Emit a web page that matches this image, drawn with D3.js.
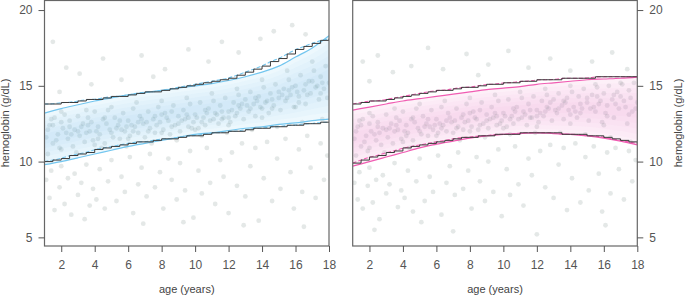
<!DOCTYPE html>
<html>
<head>
<meta charset="utf-8">
<script src="https://cdn.jsdelivr.net/npm/d3@7"></script>
<style>
  body { margin: 0; background: #fff; }
  text { font-family: "Liberation Sans", Arial, sans-serif; }
</style>
</head>
<body>
<script>
// ages (years) for the step reference limits, every half year
var stepAges = [1,1.5,2,2.5,3,3.5,4,4.5,5,5.5,6,6.5,7,7.5,8,8.5,9,9.5,10,10.5,11,11.5,12,12.5,13,13.5,14,14.5,15,15.5,16,16.5,17,17.5,18];
// ages (years) for the smooth band edges
var bandAges = [1,2,3,4,5,6,7,8,9,10,11,12,13,14,15,16,17,18];

// left panel (blue) step limits
var leftStepUpper = [13.8,13.8,13.9,13.9,14.0,14.1,14.1,14.2,14.3,14.3,14.4,14.5,14.6,14.6,14.7,14.8,14.9,15.0,15.1,15.2,15.3,15.4,15.5,15.7,15.9,16.1,16.3,16.6,16.8,17.1,17.4,17.6,17.8,18.0,18.1];
var leftStepLower = [10.0,10.1,10.2,10.4,10.5,10.6,10.8,10.9,11.0,11.1,11.2,11.3,11.3,11.4,11.5,11.5,11.6,11.7,11.7,11.8,11.9,11.9,12.0,12.0,12.1,12.2,12.2,12.3,12.3,12.4,12.4,12.5,12.5,12.6,12.6];
// left panel smooth band
var leftBandUpper = [13.2,13.5,13.75,14.0,14.2,14.4,14.55,14.7,14.85,15.0,15.15,15.35,15.6,15.9,16.3,16.9,17.5,18.3];
var leftBandLower = [9.8,10.0,10.25,10.5,10.75,11.0,11.2,11.4,11.6,11.8,11.9,12.05,12.2,12.3,12.45,12.55,12.7,12.8];

// right panel (pink) step limits
var rightStepUpper = [13.8,13.9,14.0,14.0,14.1,14.2,14.3,14.4,14.5,14.6,14.7,14.7,14.8,14.9,14.9,15.0,15.1,15.1,15.2,15.2,15.3,15.3,15.4,15.4,15.4,15.5,15.5,15.5,15.5,15.6,15.6,15.6,15.6,15.6,15.6];
var rightStepLower = [9.9,10.1,10.3,10.4,10.6,10.7,10.9,11.0,11.1,11.2,11.3,11.4,11.5,11.6,11.6,11.7,11.7,11.8,11.8,11.8,11.9,11.9,11.9,11.9,11.9,11.8,11.8,11.8,11.7,11.7,11.6,11.5,11.4,11.3,11.2];
// right panel smooth band
var rightBandUpper = [13.4,13.6,13.8,14.0,14.15,14.3,14.45,14.6,14.75,14.85,14.95,15.1,15.2,15.3,15.4,15.45,15.5,15.58];
var rightBandLower = [9.7,10.0,10.3,10.6,10.9,11.15,11.35,11.55,11.7,11.8,11.85,11.9,11.85,11.8,11.7,11.55,11.35,11.1];

// individual measurements [age, hemoglobin]
var leftPoints = [
  [1.1,11.6],[1.3,12.4],[1.5,11.2],[1.6,12.9],[1.8,11.8],[1.9,10.9],[2.1,12.2],[2.2,13.1],[2.4,11.5],[2.5,12.7],[2.7,11.0],[2.8,12.1],[3.0,13.0],[3.1,11.7],[3.3,12.5],[3.4,11.3],[3.6,12.9],[3.7,12.0],[3.9,11.4],[4.0,13.3],[4.2,12.3],[4.3,11.8],[4.5,12.8],[4.6,11.2],[4.8,13.4],[4.9,12.1],[5.1,11.6],[5.2,12.9],[5.4,12.4],[5.5,11.5],[5.7,13.2],[5.8,12.0],[6.0,12.7],[6.1,11.7],[6.3,13.5],[6.4,12.3],[6.6,11.9],[6.7,13.0],[6.9,12.5],[7.0,11.6],[7.2,13.3],[7.3,12.2],[7.5,12.8],[7.6,11.9],[7.8,13.6],[7.9,12.6],[8.1,12.1],[8.2,13.2],[8.4,12.7],[8.5,11.8],[8.7,13.7],[8.8,12.4],[9.0,13.0],[9.1,12.0],[9.3,13.4],[9.4,12.8],[9.6,12.3],[9.7,13.8],[9.9,12.6],[10.0,13.1],[10.2,12.2],[10.3,13.9],[10.5,12.9],[10.6,12.4],[10.8,13.5],[10.9,12.7],[11.1,14.0],[11.2,13.2],[11.4,12.5],[11.5,13.7],[11.7,12.9],[11.8,14.2],[12.0,13.3],[12.1,12.6],[12.3,13.9],[12.4,13.0],[12.6,14.4],[12.7,13.5],[12.9,12.8],[13.0,14.1],[13.2,13.3],[13.3,14.6],[13.5,13.8],[13.6,13.0],[13.8,14.3],[13.9,13.6],[14.1,14.9],[14.2,13.9],[14.4,13.2],[14.5,14.5],[14.7,13.7],[14.8,15.1],[15.0,14.2],[15.1,13.4],[15.3,14.8],[15.4,14.0],[15.6,15.4],[15.7,14.4],[15.9,13.6],[16.0,15.0],[16.2,14.3],[16.3,15.7],[16.5,14.7],[16.6,13.8],[16.8,15.3],[16.9,14.5],[17.1,16.0],[17.2,14.9],[17.4,14.1],[17.5,15.6],[17.7,14.8],[17.8,16.3],[18.0,15.2],
  [1.2,10.5],[2.0,13.3],[2.9,10.6],[3.5,13.4],[4.4,10.9],[5.0,13.6],[5.9,11.0],[6.5,13.9],[7.4,11.2],[8.0,14.0],[8.9,11.4],[9.5,14.2],[10.4,11.7],[11.0,14.5],[11.9,11.9],[12.5,14.8],[13.4,12.1],[14.0,15.4],[14.9,12.3],[15.5,16.0],[16.4,12.6],[17.0,16.6],[17.6,12.8],[1.4,12.8],[2.3,11.9],[3.2,12.3],[4.1,12.0],[5.3,12.2],[6.2,12.4],[7.1,12.6],[8.3,12.9],[9.2,12.7],[10.1,12.9],[11.3,13.1],[12.2,13.4],[13.1,13.7],[14.3,14.0],[15.2,14.4],[16.1,14.6],[17.3,15.0],
  [1.1,8.8],[1.3,7.6],[1.4,9.4],[1.6,6.8],[1.9,8.3],[2.0,9.7],[2.2,7.2],[2.4,8.9],[2.6,6.5],[2.8,9.2],[3.0,7.8],[3.2,8.6],[3.5,9.8],[3.7,7.1],[3.9,8.2],[4.1,7.5],[4.3,9.5],[4.6,6.9],[4.8,8.7],[5.0,10.1],[5.3,7.4],[5.6,9.0],[5.8,8.0],[6.1,10.3],[6.3,6.6],[6.6,8.5],[6.8,9.6],[7.1,7.7],[7.3,10.5],[7.6,8.3],[7.9,9.3],[8.1,6.9],[8.4,10.2],[8.6,8.8],[8.9,7.5],[9.1,9.9],[9.4,8.1],[9.7,10.7],[9.9,6.3],[10.2,9.4],[10.4,7.9],[10.7,10.9],[10.9,8.6],[11.2,7.2],[11.5,10.1],[11.7,9.0],[12.0,6.6],[12.2,10.6],[12.5,8.4],[12.8,11.2],[13.0,7.7],[13.3,9.7],[13.6,10.9],[13.8,6.1],[14.1,8.9],[14.3,11.3],[14.6,7.4],[14.9,10.2],[15.1,8.2],[15.4,11.5],[15.7,9.3],[15.9,6.9],[16.2,10.8],[16.4,8.0],[16.7,11.7],[16.9,9.6],[17.2,7.6],[17.5,11.2],[17.7,8.8],[17.9,10.4],[6.9,5.9],[12.9,5.8],[16.5,5.7],[3.4,6.2],[9.3,6.0],
  [1.5,17.9],[2.3,16.2],[3.1,15.8],[4.5,16.8],[5.6,15.4],[6.8,17.0],[8.2,16.1],[9.6,17.4],[10.8,16.6],[11.6,17.9],[12.6,17.2],[13.9,18.1],[3.8,15.1],[7.5,15.6],[1.9,14.6],[14.7,18.6],[15.8,19.0],[16.6,18.4]
];
var leftBandPoints = [
  [1.2,12.1],[1.7,11.4],[2.0,12.6],[2.6,11.8],[3.0,12.0],[3.5,11.9],[3.8,12.6],[4.2,11.5],[4.7,12.5],[5.0,11.9],[5.5,12.7],[5.9,12.3],[6.3,12.0],[6.8,12.8],[7.2,12.0],[7.7,12.4],[8.0,13.1],[8.6,12.3],[9.0,12.5],[9.5,13.1],[9.8,12.2],[10.4,12.6],[10.7,13.2],[11.1,12.8],[11.6,13.3],[12.0,12.9],[12.5,13.2],[12.8,13.8],[13.3,13.5],[13.7,14.0],[14.0,13.5],[14.6,14.1],[15.0,14.6],[15.5,14.2],[15.8,14.9],[16.2,13.9],[16.7,14.4],[17.0,15.3],[17.5,14.5],[17.9,14.2],
  [1.5,12.4],[2.5,12.3],[3.6,12.4],[4.6,12.9],[5.6,12.1],[6.6,12.6],[7.6,13.0],[8.6,13.3],[9.6,12.9],[10.6,13.4],[11.6,12.8],[12.6,13.7],[13.6,14.2],[14.6,13.5],[15.6,14.7],[16.6,15.1],[17.6,15.2],[16.0,13.6],[14.0,12.9],[12.0,12.4],[10.0,12.1],[8.0,11.9],[6.0,11.5],[4.0,11.1],[2.0,10.8]
];
var rightPoints = [
  [1.1,11.5],[1.3,12.3],[1.5,11.0],[1.6,12.8],[1.8,11.7],[1.9,10.7],[2.1,12.0],[2.2,13.0],[2.4,11.4],[2.5,12.6],[2.7,11.1],[2.8,12.2],[3.0,13.1],[3.1,11.6],[3.3,12.5],[3.4,11.2],[3.6,12.9],[3.7,12.1],[3.9,11.5],[4.0,13.3],[4.2,12.4],[4.3,11.9],[4.5,12.8],[4.6,11.4],[4.8,13.5],[4.9,12.2],[5.1,11.8],[5.2,13.0],[5.4,12.5],[5.5,11.7],[5.7,13.4],[5.8,12.1],[6.0,12.8],[6.1,11.9],[6.3,13.6],[6.4,12.4],[6.6,12.0],[6.7,13.2],[6.9,12.6],[7.0,11.9],[7.2,13.5],[7.3,12.3],[7.5,12.9],[7.6,12.1],[7.8,13.8],[7.9,12.7],[8.1,12.3],[8.2,13.3],[8.4,12.8],[8.5,12.1],[8.7,13.9],[8.8,12.5],[9.0,13.1],[9.1,12.2],[9.3,13.6],[9.4,12.9],[9.6,12.4],[9.7,14.0],[9.9,12.7],[10.0,13.2],[10.2,12.3],[10.3,14.1],[10.5,13.0],[10.6,12.5],[10.8,13.6],[10.9,12.8],[11.1,14.2],[11.2,13.3],[11.4,12.4],[11.5,13.8],[11.7,12.9],[11.8,14.3],[12.0,13.4],[12.1,12.6],[12.3,14.0],[12.4,13.0],[12.6,14.4],[12.7,13.5],[12.9,12.7],[13.0,14.1],[13.2,13.2],[13.3,14.5],[13.5,13.7],[13.6,12.8],[13.8,14.2],[13.9,13.4],[14.1,14.6],[14.2,13.6],[14.4,12.9],[14.5,14.3],[14.7,13.5],[14.8,14.8],[15.0,13.9],[15.1,12.7],[15.3,14.4],[15.4,13.6],[15.6,14.9],[15.7,13.8],[15.9,12.6],[16.0,14.5],[16.2,13.7],[16.3,15.0],[16.5,14.1],[16.6,12.9],[16.8,14.6],[16.9,13.5],[17.1,15.1],[17.2,14.0],[17.4,12.5],[17.5,14.7],[17.7,13.3],[17.8,15.2],[18.0,13.9],
  [1.2,10.4],[2.0,13.2],[2.9,10.6],[3.5,13.5],[4.4,10.9],[5.0,13.8],[5.9,11.2],[6.5,14.0],[7.4,11.4],[8.0,14.2],[8.9,11.6],[9.5,14.4],[10.4,11.8],[11.0,14.6],[11.9,11.9],[12.5,14.8],[13.4,11.9],[14.0,15.0],[14.9,11.8],[15.5,15.1],[16.4,11.6],[17.0,15.2],[17.6,11.3],[1.4,12.7],[2.3,11.8],[3.2,12.2],[4.1,12.0],[5.3,12.3],[6.2,12.5],[7.1,12.7],[8.3,12.9],[9.2,12.8],[10.1,13.0],[11.3,13.1],[12.2,13.2],[13.1,13.4],[14.3,13.3],[15.2,13.5],[16.1,13.2],[17.3,13.6],
  [1.1,8.6],[1.3,7.5],[1.4,9.3],[1.6,6.9],[1.9,8.4],[2.0,9.6],[2.2,7.3],[2.4,8.8],[2.6,6.2],[2.8,9.1],[3.0,7.9],[3.2,8.5],[3.5,9.9],[3.7,7.0],[3.9,8.1],[4.1,7.6],[4.3,9.4],[4.6,6.7],[4.8,8.7],[5.0,10.2],[5.3,7.4],[5.6,9.0],[5.8,8.0],[6.1,10.4],[6.3,6.5],[6.6,8.6],[6.8,9.7],[7.1,7.8],[7.3,10.6],[7.6,8.2],[7.9,9.4],[8.1,6.9],[8.4,10.3],[8.6,8.7],[8.9,7.4],[9.1,10.0],[9.4,8.0],[9.7,10.8],[9.9,6.4],[10.2,9.5],[10.4,7.8],[10.7,11.0],[10.9,8.5],[11.2,7.1],[11.5,10.2],[11.7,9.1],[12.0,5.2],[12.2,10.7],[12.5,8.3],[12.8,11.1],[13.0,7.6],[13.3,9.8],[13.6,10.9],[13.8,6.8],[14.1,8.9],[14.3,11.2],[14.6,7.3],[14.9,10.3],[15.1,8.1],[15.4,11.0],[15.7,9.2],[15.9,6.7],[16.2,10.6],[16.4,7.9],[16.7,10.9],[16.9,9.5],[17.2,7.5],[17.5,10.7],[17.7,8.7],[17.9,10.1],[5.1,6.0],[7.0,5.4],[2.3,5.5],[16.1,5.8],
  [1.6,16.6],[2.5,17.0],[3.4,15.9],[4.5,16.3],[5.5,17.5],[6.4,16.1],[7.8,17.1],[9.1,16.4],[10.3,17.3],[11.5,16.2],[12.8,16.8],[14.0,16.0],[15.3,16.6],[16.5,17.2],[17.4,16.1],[2.0,15.3],[8.5,15.7]
];
var rightBandPoints = [
  [1.2,12.0],[1.7,11.3],[2.0,12.5],[2.6,11.9],[3.0,12.1],[3.5,12.0],[3.8,12.7],[4.2,11.7],[4.7,12.6],[5.0,12.0],[5.5,12.8],[5.9,12.4],[6.3,12.2],[6.8,12.9],[7.2,12.2],[7.7,12.6],[8.0,13.2],[8.6,12.4],[9.0,12.7],[9.5,13.2],[9.8,12.5],[10.4,12.8],[10.7,13.3],[11.1,12.9],[11.6,13.4],[12.0,13.0],[12.5,13.3],[12.8,13.9],[13.3,13.5],[13.7,13.9],[14.0,13.1],[14.6,13.8],[15.0,14.2],[15.5,13.3],[15.8,14.0],[16.2,13.0],[16.7,13.8],[17.0,14.3],[17.5,13.1],[17.9,13.5],
  [1.5,12.4],[2.5,12.3],[3.6,12.4],[4.6,12.9],[5.6,12.3],[6.6,12.7],[7.6,13.1],[8.6,13.4],[9.6,13.0],[10.6,13.5],[11.6,12.9],[12.6,13.6],[13.6,14.0],[14.6,13.2],[15.6,14.3],[16.6,14.4],[17.6,14.2],[16.0,12.4],[14.0,12.5],[12.0,12.3],[10.0,12.2],[8.0,12.0],[6.0,11.7],[4.0,11.3],[2.0,10.9]
];

var xTicks = [2,4,6,8,10,12,14,16,18];
var yTicks = [5,10,15,20];

var W = 685, H = 297;
var svg = d3.select("body").append("svg")
    .attr("width", W)
    .attr("height", H);

var y = d3.scaleLinear().domain([4.43, 20.63]).range([246, 0.5]);

/**
 * draws one panel
 */
function drawPanel(opt) {
  var x = d3.scaleLinear().domain([1, 18]).range([opt.x0, opt.x1]);
  var g = svg.append("g");

  var clipId = "clip" + opt.id;
  svg.append("clipPath").attr("id", clipId)
    .append("rect")
    .attr("x", opt.x0).attr("y", 0.5)
    .attr("width", opt.x1 - opt.x0).attr("height", 245.5);

  var plot = g.append("g").attr("clip-path", "url(#" + clipId + ")");

  // raw points
  plot.selectAll("circle")
    .data(opt.points)
    .enter().append("circle")
    .attr("cx", function(d) { return x(d[0]); })
    .attr("cy", function(d) { return y(d[1]); })
    .attr("r", 2.4)
    .attr("fill", "#8d9e9a")
    .attr("fill-opacity", 0.24);

  // nested band layers so the middle is a bit darker
  var layers = [0, 0.08, 0.16, 0.24, 0.32, 0.4];
  layers.forEach(function(t) {
    var area = d3.area()
      .x(function(d, i) { return x(bandAges[i]); })
      .y0(function(d, i) { var lo = opt.lower[i], hi = opt.upper[i]; return y(lo + t * (hi - lo)); })
      .y1(function(d, i) { var lo = opt.lower[i], hi = opt.upper[i]; return y(hi - t * (hi - lo)); })
      .curve(d3.curveMonotoneX);
    plot.append("path")
      .datum(bandAges)
      .attr("d", area)
      .attr("fill", opt.fill)
      .attr("fill-opacity", t == 0 ? 0.12 : 0.045);
  });

  var stepLine = d3.line()
    .x(function(d) { return x(d[0]); })
    .y(function(d) { return y(d[1]); });

  // dashed smooth version of the step limits
  [opt.stepUpper, opt.stepLower].forEach(function(arr) {
    plot.append("path")
      .datum(stepAges.map(function(a, i) { return [a, arr[i]]; }))
      .attr("d", stepLine.curve(d3.curveBasis))
      .attr("fill", "none")
      .attr("stroke", opt.line)
      .attr("stroke-width", 1.1)
      .attr("stroke-dasharray", "4,2");
  });

  // solid band edges
  [opt.upper, opt.lower].forEach(function(arr) {
    plot.append("path")
      .datum(bandAges.map(function(a, i) { return [a, arr[i]]; }))
      .attr("d", stepLine.curve(d3.curveMonotoneX))
      .attr("fill", "none")
      .attr("stroke", opt.line)
      .attr("stroke-width", 1.2);
  });

  // black step limits
  [opt.stepUpper, opt.stepLower].forEach(function(arr) {
    plot.append("path")
      .datum(stepAges.map(function(a, i) { return [a, arr[i]]; }))
      .attr("d", stepLine.curve(d3.curveStepAfter))
      .attr("fill", "none")
      .attr("stroke", "#3a3a3a")
      .attr("stroke-width", 1);
  });

  // frame
  g.append("rect")
    .attr("x", opt.x0).attr("y", 0.5)
    .attr("width", opt.x1 - opt.x0).attr("height", 245.5)
    .attr("fill", "none")
    .attr("stroke", "#666")
    .attr("stroke-width", 1.2);

  // x axis
  var xa = g.append("g")
    .attr("transform", "translate(0,246)")
    .call(d3.axisBottom(x).tickValues(xTicks).tickSize(6).tickPadding(8));
  xa.select(".domain").remove();
  xa.selectAll("line").attr("stroke", "#555");
  xa.selectAll("text").attr("fill", "#555").style("font-size", "12px");

  g.append("text")
    .attr("x", (opt.x0 + opt.x1) / 2)
    .attr("y", 293)
    .attr("text-anchor", "middle")
    .attr("fill", "#444")
    .style("font-size", "11px")
    .text("age (years)");

  // y axis
  var yAxis = opt.right ? d3.axisRight(y) : d3.axisLeft(y);
  var ya = g.append("g")
    .attr("transform", "translate(" + (opt.right ? opt.x1 : opt.x0) + ",0)")
    .call(yAxis.tickValues(yTicks).tickSize(6).tickPadding(6));
  ya.select(".domain").remove();
  ya.selectAll("line").attr("stroke", "#555");
  ya.selectAll("text").attr("fill", "#555").style("font-size", "12px");

  g.append("text")
    .attr("transform", "translate(" + opt.labelX + ",123) rotate(-90)")
    .attr("text-anchor", "middle")
    .attr("fill", "#444")
    .style("font-size", "11px")
    .text("hemoglobin (g/dL)");
}

drawPanel({
  id: "L", x0: 44.5, x1: 329, right: false, labelX: 9,
  points: leftPoints.concat(leftBandPoints),
  upper: leftBandUpper, lower: leftBandLower,
  stepUpper: leftStepUpper, stepLower: leftStepLower,
  fill: "#6cc3ec", line: "#73c6ef"
});
drawPanel({
  id: "R", x0: 352.7, x1: 637.3, right: true, labelX: 682,
  points: rightPoints.concat(rightBandPoints),
  upper: rightBandUpper, lower: rightBandLower,
  stepUpper: rightStepUpper, stepLower: rightStepLower,
  fill: "#ee86c8", line: "#f05cb2"
});
</script>
</body>
</html>
